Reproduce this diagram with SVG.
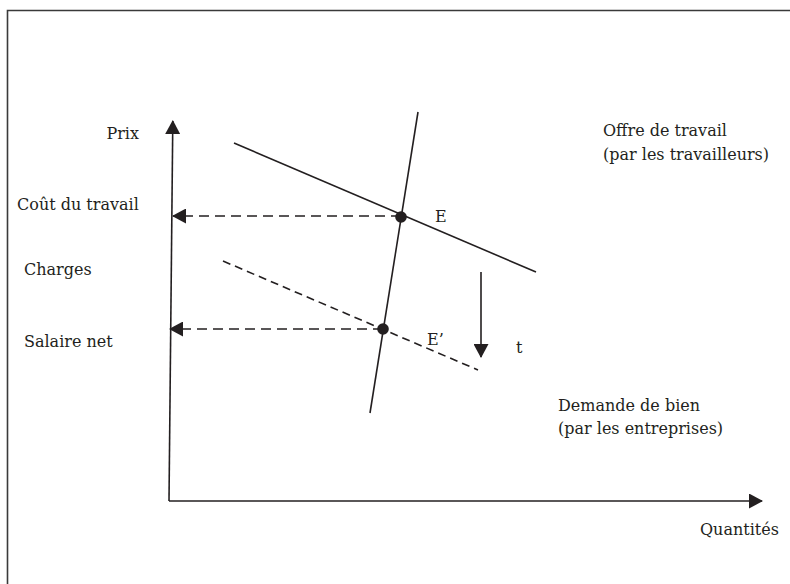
<svg xmlns="http://www.w3.org/2000/svg" width="790" height="584" viewBox="0 0 790 584">
<style>
text{font-family:"DejaVu Serif","Liberation Serif",serif;font-size:16px;fill:#231f20}
.ln{stroke:#231f20;stroke-width:1.6;fill:none}
.dash{stroke:#231f20;stroke-width:1.6;fill:none;stroke-dasharray:10 6}
.dash2{stroke:#231f20;stroke-width:1.6;fill:none;stroke-dasharray:8 5}
.dot{fill:#231f20}
</style>
<defs>
<marker id="ah" viewBox="0 0 14 15" refX="13" refY="7.5" markerWidth="14" markerHeight="15" markerUnits="userSpaceOnUse" orient="auto">
<path d="M0,0 L14,7.5 L0,15 Z" fill="#231f20"/>
</marker>
</defs>
<rect width="790" height="584" fill="#fff"/>
<g id="frame">
<path d="M7.5,584 V10.5 H790" stroke="#3a3a3a" stroke-width="1.6" fill="none"/>
</g>
<g id="connectors">
<line class="ln" x1="169" y1="501" x2="172.8" y2="121" marker-end="url(#ah)"/>
<line class="ln" x1="169" y1="501" x2="762" y2="501" marker-end="url(#ah)"/>
<line class="ln" x1="418" y1="112" x2="370" y2="413"/>
<line class="ln" x1="234" y1="143" x2="536" y2="272"/>
<line class="dash2" x1="223" y1="261" x2="478" y2="370"/>
<line class="dash" x1="401" y1="216" x2="173" y2="216" marker-end="url(#ah)"/>
<line class="dash" x1="383" y1="329" x2="170" y2="329" marker-end="url(#ah)"/>
<line class="ln" x1="481" y1="272" x2="481" y2="357" marker-end="url(#ah)"/>
</g>
<g id="E"><circle class="dot" cx="401" cy="217" r="5.8"/><text x="435" y="222">E</text></g>
<g id="Eprime"><circle class="dot" cx="383" cy="329" r="5.8"/><text x="427" y="345">E’</text></g>
<g id="t"><text x="516" y="353">t</text></g>
<g id="labels">
<text x="139" y="139" text-anchor="end">Prix</text>
<text x="17" y="210">Coût du travail</text>
<text x="24" y="275">Charges</text>
<text x="24" y="347">Salaire net</text>
<text x="700" y="535">Quantités</text>
</g>
<g id="offre"><text x="603" y="136">Offre de travail</text><text x="603" y="160">(par les travailleurs)</text></g>
<g id="demande"><text x="558" y="411">Demande de bien</text><text x="558" y="434">(par les entreprises)</text></g>
</svg>
